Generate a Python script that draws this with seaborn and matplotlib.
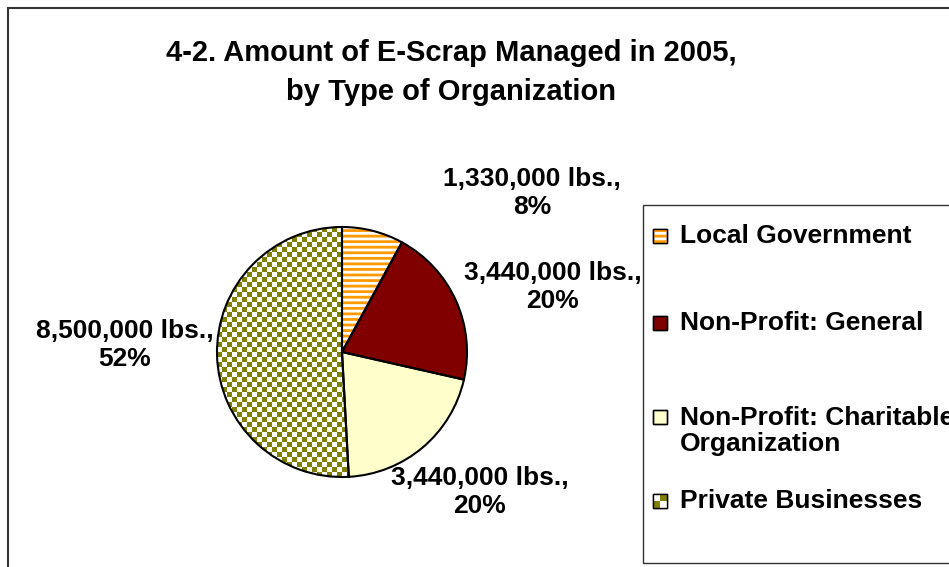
import matplotlib
matplotlib.use("Agg")
import matplotlib.pyplot as plt
import seaborn as sns
import numpy as np
from matplotlib.colors import ListedColormap
from matplotlib.patches import Rectangle

# --- data ---
categories = ["Local Government", "Non-Profit: General",
              "Non-Profit: Charitable\nOrganization", "Private Businesses"]
pounds = [1330000, 3440000, 3440000, 8500000]
pct_labels = ["8%", "20%", "20%", "52%"]

title_lines = ["4-2. Amount of E-Scrap Managed in 2005,", "by Type of Organization"]

# --- style ---
sns.set_theme(style="white")
plt.rcParams["font.family"] = ["Liberation Sans", "DejaVu Sans"]
plt.rcParams["text.color"] = "black"
plt.rcParams["hatch.linewidth"] = 2.0

W, H = 949, 567
fig = plt.figure(figsize=(W / 100, H / 100), dpi=100)
ax = fig.add_axes([0, 0, 1, 1])


def py(y):
    # pixel row (from top) -> data y
    return H - y


center = (342, py(352))
radius = 125
orange = "#FF9900"
olive = "#808000"
fills = ["white", "#800000", "#FFFFCC", "white"]

wedges, _ = ax.pie(pounds, startangle=90, counterclock=False, center=center,
                   radius=radius, colors=fills,
                   wedgeprops=dict(linewidth=0, edgecolor="none"))

# orange stripes on local government
wedges[0].set_edgecolor(orange)
wedges[0].set_hatch("---")

# checkerboard for private businesses
cell = 5
n = int(2 * (radius + 10) / cell)
checker = (np.add.outer(np.arange(n), np.arange(n)) % 2)
ext = (center[0] - radius - 10, center[0] - radius - 10 + n * cell,
       center[1] - radius - 10, center[1] - radius - 10 + n * cell)
im = ax.imshow(checker, cmap=ListedColormap(["white", olive]), extent=ext,
               interpolation="nearest", zorder=1.5)
im.set_clip_path(wedges[3])

# outlines
ax.pie(pounds, startangle=90, counterclock=False, center=center, radius=radius,
       wedgeprops=dict(fill=False, edgecolor="black", linewidth=1.5, zorder=3))

# data labels
label_pos = [(532, 193), (553, 287), (480, 492), (125, 345)]
for v, p, (lx, ly) in zip(pounds, pct_labels, label_pos):
    ax.text(lx, py(ly), f"{v:,} lbs.,\n{p}", ha="center", va="center",
            fontsize=19, fontweight="bold", linespacing=1.2, zorder=4)

ax.axis("off")

# chart frame
ax.add_patch(Rectangle((8, -20), W, py(8) + 20, fill=False, edgecolor="#333333",
                       linewidth=1.5, clip_on=False, zorder=5))

# title
fig.text(451 / W, 1 - 61 / H, title_lines[0], ha="center", va="baseline",
         fontsize=21, fontweight="bold")
fig.text(451 / W, 1 - 100 / H, title_lines[1], ha="center", va="baseline",
         fontsize=21, fontweight="bold")

# legend box
ax.add_patch(Rectangle((643, py(563)), 400, 563 - 205, fill=False,
                       edgecolor="#333333", linewidth=1.0, clip_on=False, zorder=5))
leg_rows = [236, 323, 431, 501]
leg_sq = [236, 323, 417, 501]
for i, (cat, ty, sy) in enumerate(zip(categories, leg_rows, leg_sq)):
    ax.add_patch(Rectangle((653, py(sy) - 7), 14, 14, facecolor=fills[i],
                           edgecolor="black", linewidth=1.0, zorder=6))
    if i == 0:
        ax.add_patch(Rectangle((653, py(sy) - 7), 14, 14, facecolor="none",
                               edgecolor=orange, hatch="---", linewidth=0, zorder=6.5))
    if i == 3:
        ax.imshow(np.add.outer(np.arange(2), np.arange(2)) % 2,
                  cmap=ListedColormap(["white", olive]),
                  extent=(653, 667, py(sy) - 7, py(sy) + 7),
                  interpolation="nearest", zorder=6.5)
    ax.add_patch(Rectangle((653, py(sy) - 7), 14, 14, fill=False,
                           edgecolor="black", linewidth=1.0, zorder=7))
    ax.text(680, py(ty), cat, ha="left", va="center", fontsize=19,
            fontweight="bold", linespacing=1.15, zorder=6)

ax.set_xlim(0, W)
ax.set_ylim(0, H)
ax.set_aspect("auto")

fig.savefig("out.png", dpi=100)
